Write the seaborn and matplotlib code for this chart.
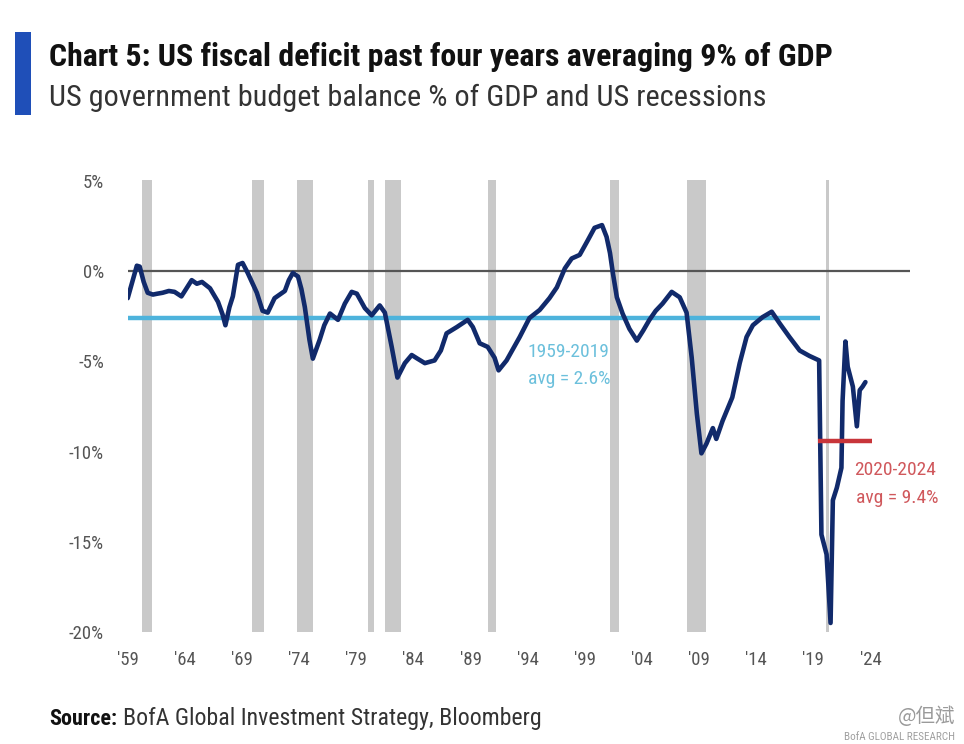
import matplotlib
matplotlib.use("Agg")
import pandas as pd
import seaborn as sns
import matplotlib.pyplot as plt
from matplotlib import font_manager
from matplotlib.patches import Rectangle

# --- 1. DATA ---
years = [1959.0, 1959.4, 1959.8, 1960.05, 1960.4, 1960.75, 1961.2, 1961.6, 1962.05, 1962.6,
         1963.1, 1963.7, 1964.1, 1964.6, 1965.05, 1965.5, 1966.2, 1966.9, 1967.3, 1967.55,
         1967.9, 1968.2, 1968.65, 1969.05, 1969.5, 1970.3, 1970.8, 1971.25, 1971.85, 1972.3,
         1972.75, 1973.1, 1973.45, 1973.9, 1974.2, 1974.5, 1974.9, 1975.2, 1975.8, 1976.2,
         1976.7, 1977.4, 1978.0, 1978.6, 1979.05, 1979.75, 1980.35, 1981.05, 1981.5, 1982.1,
         1982.6, 1983.25, 1983.85, 1984.35, 1985.0, 1985.85, 1986.4, 1986.9, 1987.8, 1988.75,
         1989.2, 1989.8, 1990.5, 1991.1, 1991.45, 1992.15, 1993.3, 1994.15, 1995.05, 1995.9,
         1996.55, 1997.25, 1997.85, 1998.55, 1999.25, 1999.85, 2000.5, 2000.9, 2001.2, 2001.45,
         2001.8, 2002.3, 2002.9, 2003.55, 2004.1, 2004.65, 2005.2, 2005.8, 2006.6, 2007.3,
         2007.9, 2008.35, 2008.8, 2009.2, 2009.65, 2010.2, 2010.5, 2011.05, 2011.9, 2012.55,
         2013.15, 2013.7, 2014.55, 2015.35, 2016.05, 2016.9, 2017.8, 2018.65, 2019.5, 2019.7,
         2020.15, 2020.5, 2020.7, 2021.05, 2021.45, 2021.55, 2021.8, 2022.0, 2022.45, 2022.8,
         2023.05, 2023.3, 2023.55]
balance = [-1.5, -0.6, 0.3, 0.25, -0.6, -1.2, -1.3, -1.25, -1.2, -1.1,
           -1.15, -1.4, -1.0, -0.5, -0.7, -0.6, -0.95, -1.7, -2.4, -3.0,
           -2.0, -1.4, 0.35, 0.45, -0.1, -1.2, -2.2, -2.3, -1.5, -1.3,
           -1.1, -0.5, -0.1, -0.3, -1.0, -2.0, -3.8, -4.85, -3.8, -3.0,
           -2.35, -2.7, -1.8, -1.15, -1.25, -2.05, -2.45, -1.9, -2.3, -4.2,
           -5.9, -5.1, -4.65, -4.85, -5.1, -4.95, -4.4, -3.45, -3.1, -2.7,
           -3.1, -4.0, -4.2, -4.8, -5.5, -4.95, -3.65, -2.6, -2.15, -1.5,
           -0.9, 0.15, 0.7, 0.9, 1.7, 2.4, 2.55, 1.9, 1.0, -0.1,
           -1.45, -2.35, -3.2, -3.85, -3.3, -2.7, -2.2, -1.8, -1.15, -1.45,
           -2.3, -4.8, -7.9, -10.1, -9.55, -8.7, -9.3, -8.3, -7.0, -5.1,
           -3.65, -3.0, -2.55, -2.25, -2.9, -3.65, -4.4, -4.7, -4.95, -14.6,
           -15.7, -19.5, -12.7, -12.0, -10.9, -7.2, -3.9, -5.3, -6.4, -8.6,
           -6.6, -6.4, -6.15]

recession_start = [1960.25, 1969.9, 1973.85, 1980.0, 1981.5, 1990.5, 2001.2, 2007.9, 2020.1]
recession_end = [1961.15, 1970.9, 1975.2, 1980.55, 1982.9, 1991.25, 2001.95, 2009.6, 2020.4]

tick_years = list(range(1959, 2025, 5))
tick_labels = ["'59", "'64", "'69", "'74", "'79", "'84", "'89", "'94",
               "'99", "'04", "'09", "'14", "'19", "'24"]
y_ticks = [5, 0, -5, -10, -15, -20]
y_labels = ["5%", "0%", "-5%", "-10%", "-15%", "-20%"]

avg_old = -2.6      # 1959-2019 average
avg_new = -9.4      # 2020-2024 average

df = pd.DataFrame({"Year": years, "Balance": balance})

# --- 2. FONTS ---
sns.set_theme(style="white")
available = {f.name for f in font_manager.fontManager.ttflist}
narrow = next((n for n in ["Liberation Sans Narrow", "Roboto Condensed",
                           "Open Sans Condensed", "Roboto"] if n in available), "DejaVu Sans")
plt.rcParams["font.family"] = [narrow, "DejaVu Sans"]

NAVY = "#112a6b"
LIGHT_BLUE = "#4db3dc"
RED = "#c8353a"
GREY_TXT = "#555555"

fig = plt.figure(figsize=(9.64, 7.44), dpi=100)
ax = fig.add_axes([127.7 / 964, 112 / 744, (910 - 127.7) / 964, 452 / 744])

# recession shading
for s, e in zip(recession_start, recession_end):
    ax.axvspan(s, e, color="#c9c9c9", lw=0, zorder=0)

ax.axhline(0, color="#555555", lw=1.6, zorder=1)
ax.hlines(avg_old, 1959, 2019.6, color=LIGHT_BLUE, lw=3.2, zorder=2)
ax.hlines(avg_new, 2019.4, 2024.1, color=RED, lw=3.2, zorder=4)

sns.lineplot(data=df, x="Year", y="Balance", ax=ax, color=NAVY, lw=3.3,
             estimator=None, sort=False, zorder=3)

ax.text(1997.6, -4.5, "1959-2019", color="#6cc0dc", fontsize=14, ha="center", va="center")
ax.text(1997.6, -6.0, "avg = 2.6%", color="#6cc0dc", fontsize=14, ha="center", va="center")
ax.text(2026.1, -11.0, "2020-2024", color="#d0585c", fontsize=14, ha="center", va="center",
        clip_on=False)
ax.text(2026.3, -12.6, "avg = 9.4%", color="#d0585c", fontsize=14, ha="center", va="center",
        clip_on=False)

ax.set_xlim(1959, 2027.45)
ax.set_ylim(-20, 5.05)
ax.set_xticks(tick_years, tick_labels)
ax.set_yticks(y_ticks, y_labels)
ax.tick_params(axis="both", length=0, labelsize=13.5, labelcolor=GREY_TXT)
ax.tick_params(axis="y", pad=17)
ax.tick_params(axis="x", pad=14)
ax.set_xlabel("")
ax.set_ylabel("")
for sp in ax.spines.values():
    sp.set_visible(False)
ax.grid(False)

# --- 3. TITLES / FOOTER ---
fig.patches.append(Rectangle((15 / 964, 1 - 115 / 744), 16 / 964, 83 / 744,
                             transform=fig.transFigure, color="#1f4fb8", lw=0))

title = fig.text(49 / 964, 1 - 57 / 744,
                 "Chart 5: US fiscal deficit past four years averaging 9% of GDP",
                 fontsize=21, fontweight="bold", color="#111111", va="center")
subtitle = fig.text(49 / 964, 1 - 98 / 744,
                    "US government budget balance % of GDP and US recessions",
                    fontsize=19, color="#333333", va="center")
src_bold = fig.text(49 / 964, 1 - 719 / 744, "Source:", fontsize=13.5,
                    fontweight="bold", color="#111111", va="center")
src_rest = fig.text(123 / 964, 1 - 719 / 744, "BofA Global Investment Strategy, Bloomberg",
                    fontsize=13.5, color="#333333", va="center")
fig.text(955 / 964, 1 - 716 / 744, "@但斌", fontsize=14, color="#9a9a9a",
         ha="right", va="center", family=["Noto Sans CJK SC", "DejaVu Sans"])
fig.text(955 / 964, 1 - 742 / 744, "BofA GLOBAL RESEARCH", fontsize=8,
         color="#a0a0a0", ha="right", va="bottom")

# scale the header/footer text so widths match the reference
renderer = fig.canvas.get_renderer()


def fit_width(txt, target_px):
    w = txt.get_window_extent(renderer).width
    txt.set_fontsize(txt.get_fontsize() * target_px / w)


fit_width(title, 832 - 49)
fit_width(subtitle, 766 - 49)
fit_width(src_bold, 117 - 49)
fit_width(src_rest, 541 - 123)

fig.savefig("out.png", dpi=100)
